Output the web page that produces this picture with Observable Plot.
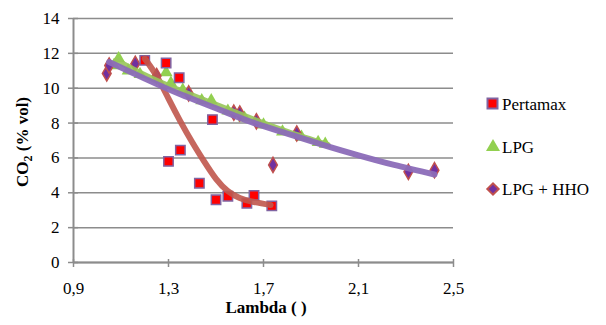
<!DOCTYPE html>
<html>
<head>
<meta charset="utf-8">
<script src="https://cdn.jsdelivr.net/npm/d3@7"></script>
<script src="https://cdn.jsdelivr.net/npm/@observablehq/plot@0.6"></script>
<style>
  html, body { margin: 0; padding: 0; background: #fff; }
  #chart { width: 606px; height: 325px; }
  #chart svg, #chart svg text { font-family: "Liberation Serif", "Times New Roman", serif !important; }
</style>
</head>
<body>
<div id="chart"></div>
<script>
// ---- data ----
const xTicks = [0.9, 1.3, 1.7, 2.1, 2.5];
const yTicks = [0, 2, 4, 6, 8, 10, 12, 14];
const seriesNames = ["Pertamax", "LPG", "LPG + HHO"];

const pertamaxLambda = [1.20, 1.29, 1.345, 1.485, 1.30, 1.35, 1.43, 1.50, 1.55, 1.63, 1.66, 1.735];
const pertamaxCO2    = [11.6, 11.45, 10.6, 8.2, 5.8, 6.45, 4.55, 3.6, 3.8, 3.4, 3.85, 3.25];

const lpgLambda = [1.07, 1.09, 1.13, 1.18, 1.29, 1.31, 1.36, 1.44, 1.48, 1.55, 1.62, 1.70, 1.78, 1.86, 1.93, 1.96];
const lpgCO2    = [11.3, 11.7, 11.0, 10.8, 10.9, 10.3, 9.9, 9.3, 9.3, 8.7, 8.3, 7.9, 7.5, 7.2, 6.9, 6.8];

const hhoLambda = [1.04, 1.05, 1.16, 1.25, 1.385, 1.575, 1.60, 1.67, 1.74, 1.84, 2.31, 2.42];
const hhoCO2    = [10.85, 11.3, 11.4, 10.7, 9.7, 8.6, 8.55, 8.1, 5.6, 7.4, 5.2, 5.3];

// trend lines
const pertamaxTrendLambda = [1.20, 1.25, 1.30, 1.35, 1.40, 1.45, 1.50, 1.55, 1.60, 1.65, 1.73];
const pertamaxTrendCO2    = [11.7, 10.7, 9.4, 8.1, 6.9, 5.8, 4.8, 4.1, 3.7, 3.5, 3.3];
const lpgTrendLambda = [1.08, 1.20, 1.35, 1.50, 1.65, 1.80, 1.97];
const lpgTrendCO2    = [11.6, 10.75, 9.85, 9.05, 8.25, 7.5, 6.75];
const hhoTrendLambda = [1.05, 1.20, 1.35, 1.50, 1.65, 1.80, 1.95, 2.10, 2.25, 2.42];
const hhoTrendCO2    = [11.5, 10.55, 9.65, 8.85, 8.05, 7.4, 6.75, 6.15, 5.6, 5.05];

const zip = (xs, ys) => xs.map((x, i) => ({x, y: ys[i]}));
const pertamax = zip(pertamaxLambda, pertamaxCO2);
const lpg = zip(lpgLambda, lpgCO2);
const hho = zip(hhoLambda, hhoCO2);
const pertamaxTrend = zip(pertamaxTrendLambda, pertamaxTrendCO2);
const lpgTrend = zip(lpgTrendLambda, lpgTrendCO2);
const hhoTrend = zip(hhoTrendLambda, hhoTrendCO2);

const C = {
  red: "#ff0000", redEdge: "#8064a2", redTrend: "#c0574d",
  green: "#92d050", greenTrend: "#98c55a",
  purple: "#7030a0", purpleEdge: "#c0504d", purpleTrend: "#8b6cb8",
  axis: "#8c8c8c"
};

const fmt = d => d.toFixed(1).replace(".", ",");

const plot = Plot.plot({
  width: 606, height: 325,
  marginLeft: 73, marginRight: 153, marginTop: 18, marginBottom: 63,
  style: {fontSize: "17px", color: "#000", background: "#fff"},
  x: {domain: [0.9, 2.5]},
  y: {domain: [0, 14]},
  marks: [
    Plot.gridY(yTicks, {stroke: C.axis, strokeOpacity: 1, strokeWidth: 1.5}),
    Plot.ruleX([0.9], {stroke: C.axis, strokeWidth: 2}),
    Plot.ruleY([0], {stroke: C.axis, strokeWidth: 2}),
    Plot.axisY(yTicks, {tickSize: 5, tickPadding: 9, label: null, stroke: C.axis, strokeWidth: 1.5, fill: "#000"}),
    Plot.axisY(yTicks, {tickSize: 5, dx: 5, tickFormat: () => "", label: null, stroke: C.axis, strokeWidth: 1.5}),
    Plot.axisX(xTicks, {tickSize: 5, tickPadding: 14, tickFormat: fmt, label: null, stroke: C.axis, strokeWidth: 1.5, fill: "#000"}),
    Plot.axisX(xTicks, {tickSize: 3, dy: -3, tickFormat: () => "", label: null, stroke: C.axis, strokeWidth: 1.5}),
    Plot.dot(lpg, {x: "x", y: "y", symbol: "triangle", r: 4.8, fill: C.green, stroke: "none"}),
    Plot.dot(hho, {x: "x", y: "y", symbol: "diamond", r: 4.6, fill: C.purple, stroke: C.purpleEdge, strokeWidth: 1.5}),
    Plot.dot(pertamax, {x: "x", y: "y", symbol: "square", r: 5.3, fill: C.red, stroke: C.redEdge, strokeWidth: 1.5}),
    Plot.line(pertamaxTrend, {x: "x", y: "y", stroke: C.redTrend, strokeWidth: 6, curve: "natural", strokeOpacity: 0.9}),
    Plot.line(lpgTrend, {x: "x", y: "y", stroke: C.greenTrend, strokeWidth: 6, curve: "natural", strokeOpacity: 0.9}),
    Plot.line(hhoTrend, {x: "x", y: "y", stroke: C.purpleTrend, strokeWidth: 6, curve: "natural", strokeOpacity: 0.95})
  ]
});

document.getElementById("chart").appendChild(plot);

// titles and legend added to the same SVG
const svg = d3.select(plot);

const yt = svg.append("text")
  .attr("transform", "translate(28,142) rotate(-90)")
  .style("text-anchor", "middle")
  .style("font-size", "17px").style("font-weight", "bold").attr("fill", "#000");
yt.append("tspan").text("CO");
yt.append("tspan").text("2").style("font-size", "12px").attr("dy", 4);
yt.append("tspan").text(" (% vol)").attr("dy", -4);

svg.append("text")
  .attr("x", 266).attr("y", 313)
  .style("text-anchor", "middle")
  .style("font-size", "17px").style("font-weight", "bold").attr("fill", "#000")
  .text("Lambda ( )");

const lg = svg.append("g").style("font-size", "17px").attr("fill", "#000");
const rows = [104, 147, 189];
// Pertamax square
lg.append("rect").attr("x", 487.5).attr("y", rows[0] - 5.5).attr("width", 10).attr("height", 10)
  .attr("fill", C.red).attr("stroke", C.redEdge).attr("stroke-width", 2);
// LPG triangle
lg.append("path").attr("transform", `translate(493,${rows[1]})`)
  .attr("d", d3.symbol(d3.symbolTriangle, 85)()).attr("fill", C.green);
// HHO diamond
lg.append("path").attr("transform", `translate(493,${rows[2]}) rotate(45)`)
  .attr("d", "M-4,-4H4V4H-4Z").attr("fill", C.purple).attr("stroke", C.purpleEdge).attr("stroke-width", 2);
seriesNames.forEach((name, i) => {
  lg.append("text").attr("x", 502).attr("y", rows[i] + 6).style("text-anchor", "start").text(name);
});
</script>
</body>
</html>
